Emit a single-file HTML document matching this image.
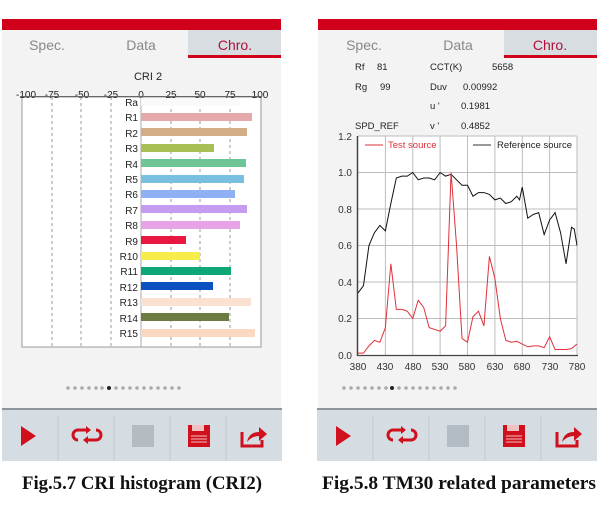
<!DOCTYPE html>
<html><head><meta charset="utf-8"><style>
html,body{margin:0;padding:0;background:#fff;width:600px;height:513px;overflow:hidden}
svg{display:block;font-family:"Liberation Sans",sans-serif}
</style></head><body>
<svg width="600" height="513" viewBox="0 0 600 513" xmlns="http://www.w3.org/2000/svg">
<defs>
<g id="tb">
  <rect x="0" y="0" width="280" height="53" fill="#d5dde3"/>
  <rect x="0" y="0" width="280" height="2" fill="#8e969c"/>
  <g stroke="#c4ccd2" stroke-width="1"><line x1="56" y1="8" x2="56" y2="53"/><line x1="112" y1="8" x2="112" y2="53"/><line x1="168" y1="8" x2="168" y2="53"/><line x1="224" y1="8" x2="224" y2="53"/></g>
  <polygon points="19,18 34,28 19,38" fill="#d0101c"/>
  <g fill="none" stroke="#d0101c" stroke-width="3">
    <path d="M76,32 a5,5 0 0 1 0,-10 h8"/><path d="M94,22 a5,5 0 0 1 0,10 h-8"/>
  </g>
  <polygon points="84,18 89,22 84,26" fill="#d0101c"/><polygon points="86,28 81,32 86,36" fill="#d0101c"/>
  <rect x="130" y="17" width="22" height="22" fill="#b4bcc3"/>
  <rect x="186" y="17" width="22" height="22" fill="#d0101c"/>
  <rect x="190" y="17" width="12" height="6" fill="#f2c0c0"/>
  <g stroke="#f2c0c0" stroke-width="1"><line x1="189" y1="28" x2="205" y2="28"/><line x1="189" y1="31" x2="205" y2="31"/><line x1="189" y1="34" x2="205" y2="34"/></g>
  <path d="M240,24 v14 h20 v-6" fill="none" stroke="#d0101c" stroke-width="3"/>
  <path d="M245,34 q2,-10 12,-10 v-5 l8,7 l-8,7 v-5 q-7,0 -12,6z" fill="#d0101c"/>
</g>
</defs>

<!-- LEFT PANEL -->
<rect x="2" y="30" width="279" height="378" fill="#f3f3f3"/>
<rect x="2" y="19" width="279" height="11" fill="#d0021b"/>
<rect x="188" y="30" width="93" height="27" fill="#d8dde1"/>
<rect x="188" y="55" width="93" height="3" fill="#d0021b"/>
<g font-size="14" fill="#888" text-anchor="middle"><text x="47" y="50">Spec.</text><text x="141" y="50">Data</text><text x="235" y="50" fill="#b0103a">Chro.</text></g>
<text x="148" y="80" font-size="11" text-anchor="middle" fill="#222">CRI 2</text>
<rect x="22" y="97" width="239" height="250" fill="#fff" stroke="#999" stroke-width="1"/>
<g font-size="10" fill="#222" text-anchor="middle">
<text x="26" y="98">-100</text><text x="52" y="98">-75</text><text x="82" y="98">-50</text><text x="111" y="98">-25</text><text x="141" y="98">0</text><text x="171" y="98">25</text><text x="200" y="98">50</text><text x="230" y="98">75</text><text x="260" y="98">100</text></g>
<line x1="20" y1="96.5" x2="262" y2="96.5" stroke="#666"/>
<g stroke="#999" stroke-dasharray="3,3"><line x1="52" y1="97" x2="52" y2="347"/><line x1="81" y1="97" x2="81" y2="347"/><line x1="111" y1="97" x2="111" y2="347"/><line x1="171" y1="97" x2="171" y2="347"/><line x1="200" y1="97" x2="200" y2="347"/><line x1="230" y1="97" x2="230" y2="347"/></g>
<line x1="141" y1="97" x2="141" y2="347" stroke="#aaa"/>
<g font-size="10" fill="#222" text-anchor="end">
<text x="138" y="106">Ra</text><text x="138" y="121">R1</text><text x="138" y="137">R2</text><text x="138" y="152">R3</text><text x="138" y="168">R4</text><text x="138" y="183">R5</text><text x="138" y="198">R6</text><text x="138" y="214">R7</text><text x="138" y="229">R8</text><text x="138" y="245">R9</text><text x="138" y="260">R10</text><text x="138" y="275">R11</text><text x="138" y="291">R12</text><text x="138" y="306">R13</text><text x="138" y="322">R14</text><text x="138" y="337">R15</text></g>
<g>
<rect x="141" y="98" width="99" height="8" fill="#fafafa"/>
<rect x="141" y="113" width="111" height="8" fill="#e6a9ab"/>
<rect x="141" y="128" width="106" height="8" fill="#d2ad85"/>
<rect x="141" y="144" width="73" height="8" fill="#a8bf55"/>
<rect x="141" y="159" width="105" height="8" fill="#6ec596"/>
<rect x="141" y="175" width="103" height="8" fill="#78bfe0"/>
<rect x="141" y="190" width="94" height="8" fill="#8fb0f5"/>
<rect x="141" y="205" width="106" height="8" fill="#c49cf2"/>
<rect x="141" y="221" width="99" height="8" fill="#e6a3e6"/>
<rect x="141" y="236" width="45" height="8" fill="#e8173f"/>
<rect x="141" y="252" width="59" height="8" fill="#f8ec4a"/>
<rect x="141" y="267" width="90" height="8" fill="#0ea878"/>
<rect x="141" y="282" width="72" height="8" fill="#0a52c0"/>
<rect x="141" y="298" width="110" height="8" fill="#fbe2d0"/>
<rect x="141" y="313" width="88" height="8" fill="#6c7b40"/>
<rect x="141" y="329" width="114" height="8" fill="#fbd8c0"/></g>
<g fill="#aaa">
<circle cx="68" cy="388" r="1.8"/><circle cx="75" cy="388" r="1.8"/><circle cx="82" cy="388" r="1.8"/><circle cx="89" cy="388" r="1.8"/><circle cx="96" cy="388" r="1.8"/><circle cx="102" cy="388" r="1.8"/><circle cx="109" cy="388" r="2" fill="#222"/><circle cx="116" cy="388" r="1.8"/><circle cx="123" cy="388" r="1.8"/><circle cx="130" cy="388" r="1.8"/><circle cx="137" cy="388" r="1.8"/><circle cx="144" cy="388" r="1.8"/><circle cx="151" cy="388" r="1.8"/><circle cx="158" cy="388" r="1.8"/><circle cx="165" cy="388" r="1.8"/><circle cx="172" cy="388" r="1.8"/><circle cx="179" cy="388" r="1.8"/></g>
<use href="#tb" x="2" y="408"/>
<text x="22" y="489" font-family="Liberation Serif,serif" font-weight="bold" font-size="19" textLength="240" lengthAdjust="spacingAndGlyphs" fill="#111">Fig.5.7 CRI histogram (CRI2)</text>

<!-- RIGHT PANEL -->
<rect x="318" y="30" width="279" height="378" fill="#f3f3f3"/>
<rect x="318" y="19" width="279" height="11" fill="#d0021b"/>
<rect x="504" y="30" width="93" height="27" fill="#d8dde1"/>
<rect x="504" y="55" width="93" height="3" fill="#d0021b"/>
<g font-size="14" fill="#888" text-anchor="middle"><text x="364" y="50">Spec.</text><text x="458" y="50">Data</text><text x="550" y="50" fill="#b0103a">Chro.</text></g>
<g font-size="9.5" fill="#222">
<text x="355" y="70">Rf</text><text x="377" y="70">81</text><text x="430" y="70">CCT(K)</text><text x="465" y="70" dx="27">5658</text>
<text x="355" y="90">Rg</text><text x="380" y="90">99</text><text x="430" y="90">Duv</text><text x="463" y="90">0.00992</text>
<text x="430" y="109">u '</text><text x="461" y="109">0.1981</text>
<text x="355" y="129">SPD_REF</text><text x="430" y="129">v '</text><text x="461" y="129">0.4852</text></g>
<rect x="358" y="136" width="219" height="219" fill="#fff"/>
<g stroke="#bdbdbd" stroke-width="1">
<line x1="358" y1="318.5" x2="577" y2="318.5"/><line x1="358" y1="282" x2="577" y2="282"/><line x1="358" y1="245.5" x2="577" y2="245.5"/><line x1="358" y1="209" x2="577" y2="209"/><line x1="358" y1="172.5" x2="577" y2="172.5"/><line x1="358" y1="136" x2="577" y2="136"/>
<line x1="385.4" y1="136" x2="385.4" y2="355"/><line x1="412.8" y1="136" x2="412.8" y2="355"/><line x1="440.1" y1="136" x2="440.1" y2="355"/><line x1="467.5" y1="136" x2="467.5" y2="355"/><line x1="494.9" y1="136" x2="494.9" y2="355"/><line x1="522.3" y1="136" x2="522.3" y2="355"/><line x1="549.6" y1="136" x2="549.6" y2="355"/><line x1="577" y1="136" x2="577" y2="355"/></g>
<line x1="357.5" y1="136" x2="357.5" y2="356" stroke="#444" stroke-width="1.5"/>
<line x1="357" y1="355.5" x2="578" y2="355.5" stroke="#444" stroke-width="1.2"/>
<g font-size="10" fill="#333" text-anchor="end">
<text x="352" y="359">0.0</text><text x="352" y="322">0.2</text><text x="352" y="286">0.4</text><text x="352" y="249">0.6</text><text x="352" y="213">0.8</text><text x="352" y="176">1.0</text><text x="352" y="140">1.2</text></g>
<g font-size="10" fill="#333" text-anchor="middle">
<text x="358" y="370">380</text><text x="385" y="370">430</text><text x="413" y="370">480</text><text x="440" y="370">530</text><text x="467" y="370">580</text><text x="495" y="370">630</text><text x="522" y="370">680</text><text x="550" y="370">730</text><text x="577" y="370">780</text></g>
<line x1="365" y1="145" x2="383" y2="145" stroke="#e0303a"/><text x="388" y="148" font-size="9.5" fill="#e0303a">Test source</text>
<line x1="473" y1="145" x2="491" y2="145" stroke="#333"/><text x="497" y="148" font-size="9.5" fill="#222">Reference source</text>
<g transform="translate(358,355) scale(0.5475,-182.5)">
<polyline vector-effect="non-scaling-stroke" fill="none" stroke="#111" stroke-width="1" points="0,0.34 10,0.38 20,0.6 30,0.67 40,0.71 50,0.68 60,0.83 70,0.97 80,0.98 90,0.98 100,1.0 110,0.96 120,0.97 130,0.97 140,0.96 150,1.0 160,0.98 170,0.99 180,0.96 190,0.93 200,0.93 210,0.87 220,0.89 230,0.89 240,0.88 250,0.85 260,0.86 270,0.83 280,0.84 290,0.87 295,0.85 300,0.92 310,0.75 320,0.77 330,0.78 340,0.66 350,0.74 360,0.78 370,0.67 380,0.5 390,0.7 395,0.69 400,0.6"/>
<polyline vector-effect="non-scaling-stroke" fill="none" stroke="#e0303a" stroke-width="1" points="0,0.01 10,0.01 20,0.05 30,0.08 40,0.07 50,0.15 60,0.5 70,0.25 80,0.25 90,0.24 100,0.2 110,0.3 120,0.26 130,0.15 140,0.14 150,0.13 160,0.16 170,1.0 180,0.6 190,0.09 200,0.07 210,0.21 220,0.24 230,0.16 240,0.54 250,0.42 260,0.2 270,0.08 280,0.07 290,0.075 300,0.06 310,0.045 320,0.05 330,0.05 340,0.04 350,0.1 360,0.03 370,0.03 380,0.03 390,0.035 400,0.06"/>
</g>
<g fill="#aaa">
<circle cx="344" cy="388" r="1.8"/><circle cx="351" cy="388" r="1.8"/><circle cx="358" cy="388" r="1.8"/><circle cx="365" cy="388" r="1.8"/><circle cx="372" cy="388" r="1.8"/><circle cx="379" cy="388" r="1.8"/><circle cx="386" cy="388" r="1.8"/><circle cx="392" cy="388" r="2" fill="#222"/><circle cx="399" cy="388" r="1.8"/><circle cx="406" cy="388" r="1.8"/><circle cx="413" cy="388" r="1.8"/><circle cx="420" cy="388" r="1.8"/><circle cx="427" cy="388" r="1.8"/><circle cx="434" cy="388" r="1.8"/><circle cx="441" cy="388" r="1.8"/><circle cx="448" cy="388" r="1.8"/><circle cx="455" cy="388" r="1.8"/></g>
<use href="#tb" x="317" y="408"/>
<text x="322" y="489" font-family="Liberation Serif,serif" font-weight="bold" font-size="19" textLength="274" lengthAdjust="spacingAndGlyphs" fill="#111">Fig.5.8 TM30 related parameters</text>
</svg>
</body></html>
